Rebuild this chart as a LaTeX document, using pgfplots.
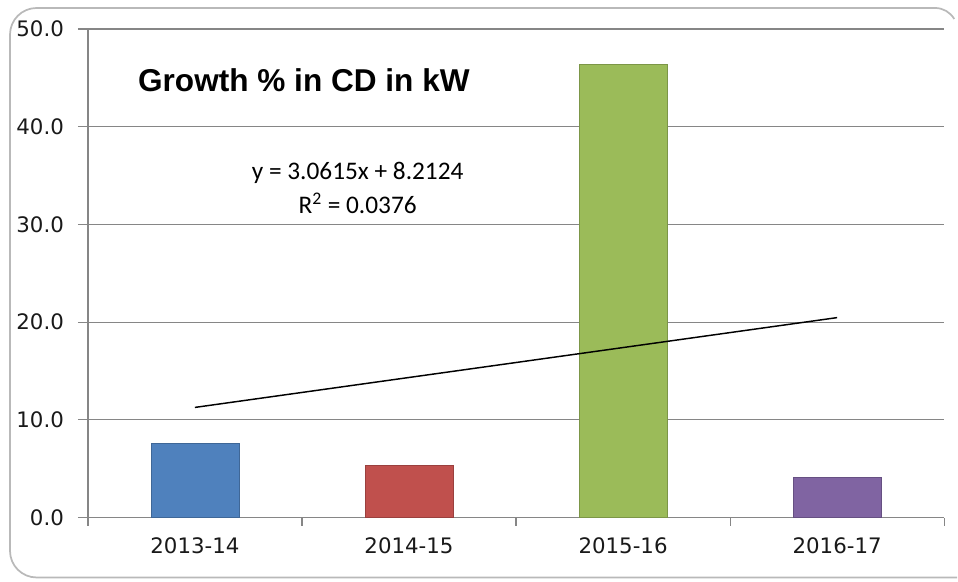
\documentclass[border=0pt]{standalone}
\usepackage{pgfplots}
\pgfplotsset{compat=1.18}
\usepackage{fontspec}
\setmainfont{DejaVu Sans}
\newfontfamily\titlefont{Liberation Sans}
\newfontfamily\eqfont{Carlito}

\definecolor{xlblue}{RGB}{79,129,189}
\definecolor{xlred}{RGB}{192,80,77}
\definecolor{xlgreen}{RGB}{155,187,89}
\definecolor{xlpurple}{RGB}{128,100,162}
\definecolor{gridgray}{RGB}{134,134,134}

\begin{document}
\begin{tikzpicture}
% picture frame, in reference pixels (1px = 0.75pt), origin at the axis corner
\begin{scope}[x=0.75pt,y=0.75pt]
\path (-88,-64) rectangle (870,518);
\draw[gray!55, line width=1.3pt, rounded corners=20pt]
  (870,-60) -- (-78,-60) -- (-78,510) -- (848,510);
\draw[gray!55, line width=1.3pt] (848,510) arc[start angle=90, end angle=30, radius=22];
\end{scope}

\begin{axis}[
    at={(0,0)}, anchor=south west,
    scale only axis,
    width=642.75pt, height=366.75pt,
    xmin=-0.5, xmax=3.5,
    ymin=0, ymax=50,
    axis x line=bottom, axis y line=left,
    axis line style={gridgray, line width=0.9pt, -},
    xtick={0,1,2,3},
    xticklabels={2013-14,2014-15,2015-16,2016-17},
    minor xtick={-0.5,0.5,1.5,2.5,3.5},
    ytick={0,10,...,50},
    tick align=outside,
    major x tick style={draw=none},
    minor tick length=6pt,
    major tick length=7.5pt,
    every tick/.style={gridgray, line width=0.9pt},
    ymajorgrids,
    major grid style={gridgray, line width=0.9pt},
    ticklabel style={font=\fontsize{16}{18}\selectfont, text=black!90},
    yticklabel style={xshift=-7pt, /pgf/number format/.cd, fixed, fixed zerofill, precision=1, assume math mode=true},
    xticklabel style={yshift=-4pt},
    clip=false,
]
\addplot[ybar, bar width=0.41, bar shift=0pt, fill=xlblue, draw=xlblue!80!black] coordinates {(0,7.6)};
\addplot[ybar, bar width=0.41, bar shift=0pt, fill=xlred, draw=xlred!80!black] coordinates {(1,5.3)};
\addplot[ybar, bar width=0.41, bar shift=0pt, fill=xlgreen, draw=xlgreen!80!black] coordinates {(2,46.4)};
\addplot[ybar, bar width=0.41, bar shift=0pt, fill=xlpurple, draw=xlpurple!80!black] coordinates {(3,4.1)};
% linear trend line
\addplot[black, line width=1.1pt] coordinates {(0,11.27) (3,20.46)};
\end{axis}

\begin{scope}[x=0.75pt,y=0.75pt]
\node[anchor=west, inner sep=0] at (50,438) {\titlefont\bfseries\fontsize{23.7}{27}\selectfont Growth \% in CD in kW};
\node[align=center, inner sep=0, font=\eqfont\fontsize{19}{25}\selectfont] at (270,330) {y = 3.0615x + 8.2124\\R\textsuperscript{2} = 0.0376};
\end{scope}
\end{tikzpicture}
\end{document}
